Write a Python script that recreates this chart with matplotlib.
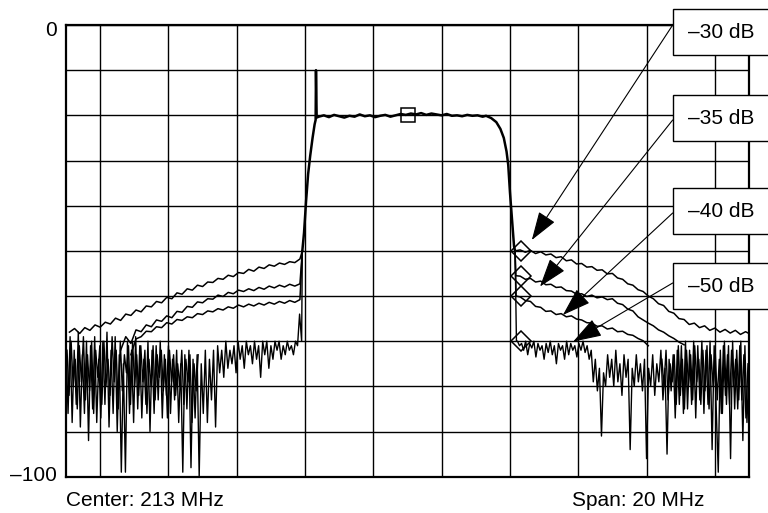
import matplotlib
matplotlib.use("Agg")
import matplotlib.pyplot as plt
from matplotlib.patches import Rectangle
from matplotlib.ticker import MultipleLocator

plt.rcParams['font.family'] = ['Liberation Sans', 'DejaVu Sans']

# ---------------- data (MHz, dB) ----------------
passband_f = [209.92, 209.97, 210.03, 210.09, 210.15, 210.22, 210.28, 210.31, 210.32, 210.34,
              210.40, 210.55, 210.70, 210.85, 211.00, 211.15, 211.30, 211.45, 211.60, 211.75,
              211.90, 212.05, 212.20, 212.35, 212.50, 212.65, 212.80, 212.95, 213.10, 213.25,
              213.40, 213.55, 213.70, 213.85, 214.00, 214.15, 214.30, 214.45, 214.60, 214.75,
              214.90, 215.05, 215.20, 215.30, 215.45, 215.60, 215.72, 215.82, 215.90, 215.95,
              216.00, 216.04, 216.08, 216.12, 216.15]
passband_db = [-50.0, -46.0, -39.0, -33.0, -29.0, -25.0, -22.0, -21.0, -10.0, -20.5,
               -20.3, -20.0, -20.4, -19.9, -20.2, -20.5, -20.1, -20.3, -19.8, -20.2,
               -20.0, -20.4, -20.1, -19.9, -20.3, -20.0, -19.7, -19.9, -19.6, -19.8,
               -19.5, -19.9, -19.6, -19.8, -20.0, -19.7, -20.1, -20.0, -20.2, -19.9,
               -20.1, -20.0, -20.3, -20.1, -20.6, -21.5, -23.0, -25.0, -28.0, -31.0,
               -37.0, -41.0, -45.0, -49.0, -50.0]

t1_left_f = [203.10, 203.25, 203.40, 203.55, 203.70, 203.85, 204.00, 204.15, 204.30, 204.45,
             204.60, 204.75, 204.90, 205.05, 205.20, 205.35, 205.50, 205.65, 205.80, 205.95,
             206.10, 206.25, 206.40, 206.55, 206.70, 206.85, 207.00, 207.15, 207.30, 207.45,
             207.60, 207.75, 207.90, 208.05, 208.20, 208.35, 208.50, 208.65, 208.80, 208.95,
             209.10, 209.25, 209.40, 209.55, 209.70, 209.85, 209.92]
t1_left_db = [-68.0, -67.2, -68.3, -67.0, -67.6, -66.4, -66.9, -65.8, -66.2, -64.9,
              -65.4, -64.0, -64.3, -63.1, -63.5, -62.2, -62.4, -61.2, -61.5, -60.3,
              -60.6, -59.3, -59.6, -58.4, -58.7, -57.6, -57.9, -56.9, -57.0, -56.1,
              -56.3, -55.4, -55.7, -54.8, -55.0, -54.1, -54.5, -53.6, -53.9, -53.1,
              -53.4, -52.7, -53.0, -52.4, -52.6, -51.8, -50.0]

t2_left_f = [204.60, 204.75, 204.90, 205.05, 205.20, 205.35, 205.50, 205.65, 205.80, 205.95,
             206.10, 206.25, 206.40, 206.55, 206.70, 206.85, 207.00, 207.15, 207.30, 207.45,
             207.60, 207.75, 207.90, 208.05, 208.20, 208.35, 208.50, 208.65, 208.80, 208.95,
             209.10, 209.25, 209.40, 209.55, 209.70, 209.85, 209.92]
t2_left_db = [-72.0, -69.0, -70.5, -67.5, -67.9, -66.4, -66.8, -65.3, -65.6, -64.4,
              -64.8, -63.4, -63.6, -62.3, -62.5, -61.3, -61.5, -60.6, -60.7, -59.8,
              -60.1, -59.2, -59.5, -58.7, -59.0, -58.4, -58.8, -58.1, -58.5, -57.8,
              -58.2, -57.6, -58.0, -57.4, -57.8, -57.3, -50.0]

t3_left_f = [204.90, 205.05, 205.20, 205.35, 205.50, 205.65, 205.80, 205.95, 206.10, 206.25,
             206.40, 206.55, 206.70, 206.85, 207.00, 207.15, 207.30, 207.45, 207.60, 207.75,
             207.90, 208.05, 208.20, 208.35, 208.50, 208.65, 208.80, 208.95, 209.10, 209.25,
             209.40, 209.55, 209.70, 209.85, 209.92]
t3_left_db = [-73.0, -69.5, -69.0, -67.8, -67.9, -66.8, -67.0, -65.9, -66.2, -65.2,
              -65.4, -64.6, -64.8, -63.9, -64.1, -63.3, -63.5, -62.8, -63.1, -62.4,
              -62.7, -62.0, -62.4, -61.8, -62.2, -61.6, -62.0, -61.4, -61.8, -61.2,
              -61.6, -61.0, -61.4, -60.8, -50.0]

noise_left_f = [203.00, 203.06, 203.12, 203.18, 203.24, 203.30, 203.36, 203.42, 203.48, 203.54,
                203.60, 203.66, 203.72, 203.78, 203.84, 203.90, 203.96, 204.02, 204.08, 204.14,
                204.20, 204.26, 204.32, 204.38, 204.44, 204.50, 204.56, 204.62, 204.68, 204.74,
                204.80, 204.86, 204.92, 204.98, 205.04, 205.10, 205.16, 205.22, 205.28, 205.34,
                205.40, 205.46, 205.52, 205.58, 205.64, 205.70, 205.76, 205.82, 205.88, 205.94,
                206.00, 206.06, 206.12, 206.18, 206.24, 206.30, 206.36, 206.42, 206.48, 206.54,
                206.60, 206.66, 206.72, 206.78, 206.84, 206.90, 206.96, 207.02, 207.08, 207.14,
                207.20, 207.26, 207.32, 207.38, 207.44, 207.50, 207.56, 207.62, 207.68, 207.74,
                207.80, 207.86, 207.92, 207.98, 208.04, 208.10, 208.16, 208.22, 208.28, 208.34,
                208.40, 208.46, 208.52, 208.58, 208.64, 208.70, 208.76, 208.82, 208.88, 208.94,
                209.00, 209.06, 209.12, 209.18, 209.24, 209.30, 209.36, 209.42, 209.48, 209.54,
                209.60, 209.66, 209.72, 209.78, 209.84, 209.90, 209.92]
noise_left_db = [-70, -86, -69, -88, -72, -84, -68, -89, -73, -86,
                 -70, -92, -71, -85, -69, -88, -74, -87, -70, -84,
                 -68, -89, -72, -86, -69, -90, -73, -99, -75, -99,
                 -70, -86, -72, -88, -69, -85, -71, -87, -74, -84,
                 -70, -90, -72, -86, -71, -83, -70, -87, -73, -82,
                 -71, -86, -74, -83, -72, -88, -75, -99, -73, -85,
                 -72, -98, -74, -87, -73, -100, -75, -86, -72, -88,
                 -74, -83, -72, -89, -71, -77, -72, -78, -70, -76,
                 -72, -75, -71, -77, -70, -74, -71, -76, -70, -73,
                 -71, -75, -70, -74, -71, -78, -70, -73, -70, -76,
                 -71, -74, -70, -72, -70, -74, -71, -73, -70, -72,
                 -71, -73, -70, -71, -64, -70, -50]

noise_left2_f = [203.03, 203.09, 203.15, 203.21, 203.27, 203.33, 203.39, 203.45, 203.51, 203.57,
                 203.63, 203.69, 203.75, 203.81, 203.87, 203.93, 203.99, 204.05, 204.11, 204.17,
                 204.23, 204.29, 204.35, 204.41, 204.47, 204.53, 204.59, 204.65, 204.71, 204.77,
                 204.83, 204.89, 204.95, 205.01, 205.07, 205.13, 205.19, 205.25, 205.31, 205.37,
                 205.43, 205.49, 205.55, 205.61, 205.67, 205.73, 205.79, 205.85, 205.91, 205.97,
                 206.03, 206.09, 206.15, 206.21, 206.27, 206.33, 206.39, 206.45, 206.51, 206.57,
                 206.63, 206.69, 206.75, 206.81, 206.87]
noise_left2_db = [-72, -82, -70, -80, -74, -85, -71, -79, -69, -83,
                  -73, -81, -70, -86, -72, -78, -71, -84, -70, -80,
                  -74, -82, -69, -79, -72, -85, -70, -81, -73, -77,
                  -71, -84, -70, -80, -73, -82, -71, -79, -72, -86,
                  -74, -80, -71, -83, -73, -78, -72, -81, -74, -87,
                  -72, -79, -73, -82, -75, -80, -72, -84, -74, -79,
                  -73, -88, -75, -81, -73]

t1_right_f = [216.15, 216.30, 216.45, 216.60, 216.75, 216.90, 217.05, 217.20, 217.35, 217.50,
              217.65, 217.80, 217.95, 218.10, 218.25, 218.40, 218.55, 218.70, 218.85, 219.00,
              219.15, 219.30, 219.45, 219.60, 219.75, 219.90, 220.05, 220.20, 220.35, 220.50,
              220.65, 220.80, 220.95, 221.10, 221.25, 221.40, 221.55, 221.70, 221.85, 222.00,
              222.15, 222.30, 222.45, 222.60, 222.75, 222.90, 223.00]
t1_right_db = [-50.0, -49.8, -50.3, -49.9, -50.6, -50.2, -50.9, -50.7, -51.5, -51.3,
               -52.2, -52.0, -52.9, -52.8, -53.6, -53.5, -54.3, -54.2, -55.1, -55.0,
               -56.0, -56.3, -57.3, -57.6, -58.6, -59.0, -60.0, -60.6, -61.7, -62.1,
               -63.4, -63.8, -65.0, -65.2, -66.3, -66.0, -67.0, -66.6, -67.6, -67.1,
               -68.0, -67.4, -68.2, -67.6, -68.5, -67.9, -68.3]

t2_right_f = [216.15, 216.17, 216.30, 216.45, 216.60, 216.75, 216.90, 217.05, 217.20, 217.35,
              217.50, 217.65, 217.80, 217.95, 218.10, 218.25, 218.40, 218.55, 218.70, 218.85,
              219.00, 219.15, 219.30, 219.45, 219.60, 219.75, 219.90, 220.05, 220.20, 220.35,
              220.50, 220.65, 220.80, 220.95, 221.10]
t2_right_db = [-50.0, -55.5, -55.6, -56.3, -56.1, -56.9, -56.7, -57.5, -57.4, -58.1,
               -58.0, -58.8, -58.9, -59.6, -59.5, -60.1, -59.8, -60.4, -60.2, -60.8,
               -60.6, -61.6, -61.9, -62.9, -63.3, -64.6, -65.3, -66.0, -66.6, -67.5,
               -68.0, -68.8, -69.4, -70.2, -70.8]

t3_right_f = [216.15, 216.18, 216.30, 216.45, 216.60, 216.75, 216.90, 217.05, 217.20, 217.35,
              217.50, 217.65, 217.80, 217.95, 218.10, 218.25, 218.40, 218.55, 218.70, 218.85,
              219.00, 219.15, 219.30, 219.45, 219.60, 219.75, 219.90, 220.05]
t3_right_db = [-50.0, -60.0, -60.2, -61.0, -61.2, -62.3, -62.5, -63.4, -63.3, -64.1,
               -63.9, -64.6, -64.4, -65.1, -65.3, -65.9, -66.0, -66.7, -66.6, -67.3,
               -67.1, -67.9, -67.8, -68.5, -68.7, -69.4, -69.9, -71.0]

noise_right_f = [216.15, 216.19,
                 216.22, 216.28, 216.34, 216.40, 216.46, 216.52, 216.58, 216.64, 216.70, 216.76,
                 216.82, 216.88, 216.94, 217.00, 217.06, 217.12, 217.18, 217.24, 217.30, 217.36,
                 217.42, 217.48, 217.54, 217.60, 217.66, 217.72, 217.78, 217.84, 217.90, 217.96,
                 218.02, 218.08, 218.14, 218.20, 218.26, 218.32, 218.38, 218.44, 218.50, 218.56,
                 218.62, 218.68, 218.74, 218.80, 218.86, 218.92, 218.98, 219.04, 219.10, 219.16,
                 219.22, 219.28, 219.34, 219.40, 219.46, 219.52, 219.58, 219.64, 219.70, 219.76,
                 219.82, 219.88, 219.94, 220.00, 220.06, 220.12, 220.18, 220.24, 220.30, 220.36,
                 220.42, 220.48, 220.54, 220.60, 220.66, 220.72, 220.78, 220.84, 220.90, 220.96,
                 221.02, 221.08, 221.14, 221.20, 221.26, 221.32, 221.38, 221.44, 221.50, 221.56,
                 221.62, 221.68, 221.74, 221.80, 221.86, 221.92, 221.98, 222.04, 222.10, 222.16,
                 222.22, 222.28, 222.34, 222.40, 222.46, 222.52, 222.58, 222.64, 222.70, 222.76,
                 222.82, 222.88, 222.94, 223.00]
noise_right_db = [-50, -70,
                  -70, -71, -70.5, -72, -70, -73, -70.5, -71.5, -70, -73.5,
                  -70.5, -72, -71, -74, -70.5, -72.5, -70, -73, -71, -75,
                  -70.5, -72, -71, -74, -70, -73, -70.5, -72, -71, -73.5,
                  -70.5, -72, -70, -72.5, -71, -74, -72, -79, -74, -81,
                  -76, -91, -77, -80, -73, -78, -74, -80, -72, -79,
                  -75, -82, -73, -78, -74, -94, -76, -80, -73, -79,
                  -75, -81, -74, -96, -76, -80, -73, -82, -75, -79,
                  -72, -83, -76, -95, -74, -81, -73, -87, -72, -84,
                  -71, -86, -70, -85, -72, -84, -70, -87, -71, -83,
                  -70, -86, -72, -84, -70, -94, -71, -85, -99, -72,
                  -86, -70, -84, -71, -96, -70, -85, -72, -83, -70,
                  -92, -71, -88, -76]

noise_right2_f = [220.45, 220.51, 220.57, 220.63, 220.69, 220.75, 220.81, 220.87, 220.93, 220.99,
                  221.05, 221.11, 221.17, 221.23, 221.29, 221.35, 221.41, 221.47, 221.53, 221.59,
                  221.65, 221.71, 221.77, 221.83, 221.89, 221.95, 222.01, 222.07, 222.13, 222.19,
                  222.25, 222.31, 222.37, 222.43, 222.49, 222.55, 222.61, 222.67, 222.73, 222.79,
                  222.85, 222.91, 222.97]
noise_right2_db = [-74, -80, -72, -83, -75, -79, -73, -84, -71, -82,
                   -74, -85, -72, -80, -73, -83, -71, -79, -74, -84,
                   -72, -81, -71, -85, -73, -80, -72, -83, -74, -86,
                   -71, -82, -73, -84, -72, -80, -74, -85, -71, -83,
                   -73, -87, -75]

center_marker_f = [213.0]
center_marker_db = [-19.9]
diamond_f = [216.33, 216.33, 216.33, 216.33]
diamond_db = [-50.0, -55.5, -60.0, -70.0]
labels = ["–30 dB", "–35 dB", "–40 dB", "–50 dB"]
arrow_tips = [(216.64, -47.6), (216.88, -57.9), (217.55, -64.2), (217.85, -70.1)]

# ---------------- figure ----------------
W, H = 768, 513
fig = plt.figure(figsize=(W / 100, H / 100), dpi=100)
L, R, T, B = 66, 749, 25, 476.7
ax = fig.add_axes([L / W, 1 - B / H, (R - L) / W, (B - T) / H])
ax.set_xlim(203, 223)
ax.set_ylim(-100, 0)
ax.xaxis.set_major_locator(MultipleLocator(2))
ax.yaxis.set_major_locator(MultipleLocator(10))
ax.grid(True, color='black', lw=1.0)
ax.set_axisbelow(True)
ax.tick_params(length=0, labelbottom=False, labelleft=False)
for s in ax.spines.values():
    s.set_linewidth(1.6)

ax.plot(passband_f, passband_db, color='black', lw=1.8, zorder=3)
for f, d in [(t1_left_f, t1_left_db), (t2_left_f, t2_left_db), (t3_left_f, t3_left_db),
             (t1_right_f, t1_right_db), (t2_right_f, t2_right_db), (t3_right_f, t3_right_db)]:
    ax.plot(f, d, color='black', lw=1.1, zorder=3)
for f, d in [(noise_left_f, noise_left_db), (noise_left2_f, noise_left2_db),
             (noise_right_f, noise_right_db), (noise_right2_f, noise_right2_db)]:
    ax.plot(f, d, color='black', lw=1.0, zorder=3)

ax.plot(center_marker_f, center_marker_db, 's', ms=10, mfc='none', mec='black', mew=1.1, zorder=4)
ax.plot(diamond_f, diamond_db, 'D', ms=10, mfc='none', mec='black', mew=1.1, zorder=4)

# label boxes and arrows
fs = 15
box_centers = [32, 118.3, 211.3, 286.3]
start_y = [25, 120, 213, 283]
box_h = 46
bx0 = 672.7
for lab, cy, sy, tip in zip(labels, box_centers, start_y, arrow_tips):
    fig.add_artist(Rectangle((bx0 / W, 1 - (cy + box_h / 2) / H), 0.2, box_h / H,
                             transform=fig.transFigure, facecolor='white',
                             edgecolor='black', lw=1.0, zorder=5, clip_on=False))
    fig.text(721.5 / W, 1 - cy / H, lab, ha='center', va='center', fontsize=fs, zorder=6)
    start = ax.transData.inverted().transform((bx0, H - sy))
    ax.annotate('', xy=tip, xytext=start, xycoords='data', textcoords='data',
                arrowprops=dict(arrowstyle='-|>,head_length=0.9,head_width=0.3',
                                mutation_scale=20, lw=0.8, color='black',
                                shrinkA=0, shrinkB=0),
                annotation_clip=False, zorder=6)

fig.text(57 / W, 1 - 31 / H, "0", ha='right', va='center', fontsize=fs)
fig.text(57 / W, 1 - 475.5 / H, "–100", ha='right', va='center', fontsize=fs)
fig.text(66 / W, 1 - 500 / H, "Center: 213 MHz", ha='left', va='center', fontsize=fs)
fig.text(572 / W, 1 - 500 / H, "Span: 20 MHz", ha='left', va='center', fontsize=fs)

fig.savefig("out.png", dpi=100)
